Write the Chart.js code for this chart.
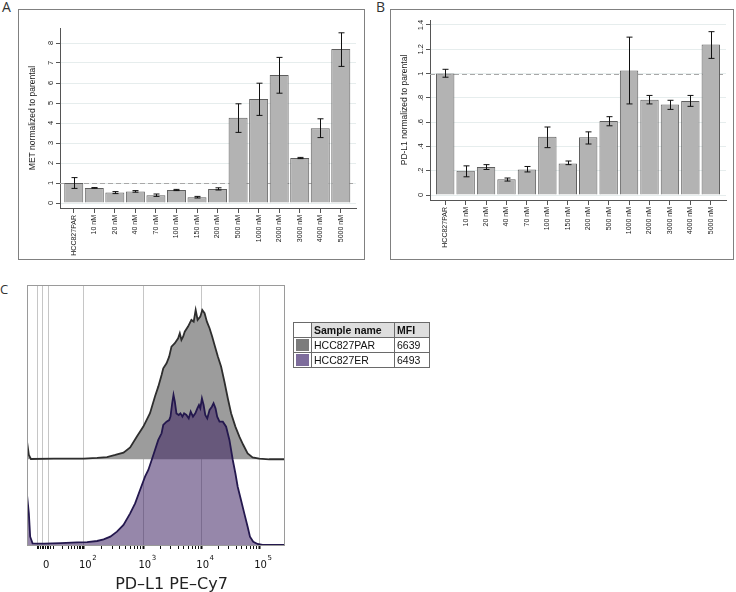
<!DOCTYPE html>
<html>
<head>
<meta charset="utf-8">
<script src="https://cdn.jsdelivr.net/npm/chart.js@4.4.1/dist/chart.umd.min.js"></script>
<style>
  body { margin: 0; width: 736px; height: 592px; position: relative; overflow: hidden; background: #fff; font-family: 'Liberation Sans', Arial, sans-serif; }
  .frame { position: absolute; border: 1px solid #808080; box-sizing: border-box; }
  .tag { position: absolute; font: 14px 'Open Sans', sans-serif; color: #333; line-height: 1; }
  canvas { position: absolute; }
  #mfi { position: absolute; left: 293px; top: 322px; border-collapse: collapse; font: 10.5px 'Liberation Sans', Arial, sans-serif; color: #111; }
  #mfi td, #mfi th { border: 1px solid #6a6a6a; height: 14px; padding: 0 2px; text-align: left; white-space: nowrap; }
  #mfi th { background: #dedede; font-weight: bold; }
  #mfi th.blank { background: #fff; }
  .sw { display: block; width: 13px; height: 12px; }
</style>
</head>
<body>
<div class="frame" style="left:18px;top:9px;width:347px;height:251px"></div>
<div class="frame" style="left:390px;top:9px;width:344px;height:251px"></div>
<div class="tag" style="left:2px;top:0px">A</div>
<div class="tag" style="left:376px;top:0px">B</div>
<div class="tag" style="left:0px;top:283px;font-size:13px">C</div>

<canvas id="chartA" width="344" height="248" style="left:19px;top:10px"></canvas>
<canvas id="chartB" width="341" height="248" style="left:391px;top:10px"></canvas>
<canvas id="chartC" width="300" height="324" style="left:0px;top:270px"></canvas>

<table id="mfi">
  <tr><th class="blank" style="width:13px"></th><th style="width:78px">Sample name</th><th style="width:30px">MFI</th></tr>
  <tr><td><span class="sw" style="background:#7c7c7c"></span></td><td>HCC827PAR</td><td>6639</td></tr>
  <tr><td><span class="sw" style="background:#7d6c9b"></span></td><td>HCC827ER</td><td>6493</td></tr>
</table>

<script>
// categories shared by panels A and B
const doseLabels = ['HCC827PAR', '10 nM', '20 nM', '40 nM', '70 nM', '100 nM', '150 nM', '200 nM',
  '500 nM', '1000 nM', '2000 nM', '3000 nM', '4000 nM', '5000 nM'];

// A: MET normalized to parental (mean, error bar low/high)
const metMean = [1.00, 0.75, 0.52, 0.58, 0.39, 0.65, 0.29, 0.70, 4.26, 5.20, 6.40, 2.25, 3.74, 7.70];
const metLow  = [0.73, 0.74, 0.47, 0.54, 0.33, 0.62, 0.25, 0.65, 3.53, 4.38, 5.49, 2.22, 3.27, 6.83];
const metHigh = [1.27, 0.77, 0.57, 0.62, 0.45, 0.68, 0.33, 0.76, 4.96, 5.99, 7.28, 2.28, 4.21, 8.51];
const metTicks = [0, 1, 2, 3, 4, 5, 6, 7, 8];
const metTickText = ['0', '1', '2', '3', '4', '5', '6', '7', '8'];

// B: PD-L1 normalized to parental
const pdl1Mean = [1.00, 0.20, 0.23, 0.13, 0.21, 0.48, 0.26, 0.475, 0.61, 1.025, 0.785, 0.745, 0.775, 1.24];
const pdl1Low  = [0.97, 0.15, 0.21, 0.115, 0.19, 0.39, 0.25, 0.42, 0.57, 0.75, 0.75, 0.705, 0.73, 1.125];
const pdl1High = [1.035, 0.24, 0.25, 0.14, 0.235, 0.56, 0.28, 0.52, 0.645, 1.30, 0.82, 0.78, 0.82, 1.345];
const pdl1Ticks = [0, 0.2, 0.4, 0.6, 0.8, 1, 1.2, 1.4];
const pdl1TickText = ['0', '.2', '.4', '.6', '.8', '1', '1.2', '1.4'];

const parentalLevel = 1;

// C: flow histograms, x in display decades of PD-L1 PE-Cy7, y in % of mode
const parX = [0.99, 1.022, 1.057, 1.456, 1.971, 2.201, 2.372, 2.515, 2.657, 2.772, 2.886, 3.000, 3.115, 3.201,
  3.258, 3.315, 3.344, 3.401, 3.446, 3.486, 3.544, 3.601, 3.630, 3.658, 3.687, 3.715, 3.772, 3.830, 3.870,
  3.904, 3.938, 3.984, 4.018, 4.058, 4.098, 4.144, 4.190, 4.230, 4.287, 4.344, 4.401, 4.459, 4.516, 4.590,
  4.659, 4.727, 4.802, 4.887, 5.002, 5.173, 5.43];
const parCount = [11.8, 2.9, 0.2, 0.4, 0.4, 0.9, 1.5, 2.9, 4.5, 8.0, 15.2, 22.0, 31.0, 42.2,
  48.9, 56.7, 61.2, 64.6, 69.1, 75.8, 78.1, 81.4, 84.8, 80.3, 82.5, 85.9, 89.3, 93.8, 92.6,
  100.5, 93.8, 96.0, 100.5, 98.3, 92.6, 88.2, 82.5, 76.9, 69.1, 62.3, 52.2, 41.1, 31.0, 22.0,
  15.2, 9.6, 4.0, 1.3, 0.4, 0, 0];
const erX = [0.99, 1.022, 1.045, 1.086, 1.285, 1.571, 1.857, 2.029, 2.201, 2.314, 2.429, 2.544, 2.657, 2.772,
  2.858, 2.943, 3.029, 3.086, 3.144, 3.201, 3.258, 3.315, 3.344, 3.401, 3.446, 3.469, 3.498, 3.521, 3.544,
  3.572, 3.612, 3.641, 3.675, 3.704, 3.744, 3.784, 3.818, 3.858, 3.898, 3.933, 3.961, 3.984, 4.012, 4.041,
  4.070, 4.104, 4.144, 4.184, 4.213, 4.247, 4.276, 4.316, 4.373, 4.430, 4.487, 4.545, 4.590, 4.630, 4.687,
  4.744, 4.802, 4.842, 4.899, 4.973, 5.059, 5.43];
const erCount = [33.7, 21.3, 5.6, 1.1, 0.9, 1.3, 1.8, 2.0, 2.7, 3.8, 5.6, 9.0, 13.5, 21.3,
  28.0, 37.0, 46.0, 50.5, 57.2, 63.9, 70.7, 75.2, 80.8, 83.0, 84.1, 86.4, 95.4, 101.0, 96.5,
  88.6, 87.5, 88.6, 86.4, 88.6, 87.5, 85.2, 89.8, 86.4, 88.6, 92.0, 94.2, 92.0, 98.7, 94.2,
  87.5, 85.2, 90.9, 93.1, 95.4, 92.0, 86.4, 83.0, 83.0, 79.6, 70.7, 57.2, 48.3, 39.2, 30.3,
  21.3, 12.3, 5.6, 2.2, 0.7, 0, 0];

// axis C labels and gridlines
const cLabelPos = [1.322, 1.971, 3, 4, 5];
const cLabelBase = ['0', '10', '10', '10', '10'];
const cLabelExp = ['', '2', '3', '4', '5'];
const cGridPos = [1.171, 1.257, 1.370, 1.971, 3, 4, 5];
const cNearZeroTicks = [1.19, 1.23, 1.27, 1.31, 1.35, 1.39, 1.451];
const cAxisTitle = 'PD\u2013L1 PE\u2013Cy7';

Chart.defaults.font.family = "'Liberation Sans', Arial, sans-serif";
Chart.defaults.color = '#222';

function barPanel(canvasId, cfg) {
  const errorBars = {
    id: 'errorBars',
    afterDatasetsDraw(chart) {
      const { ctx, scales: { x, y } } = chart;
      ctx.save();
      ctx.strokeStyle = '#111';
      ctx.lineWidth = 1;
      cfg.lows.forEach((lo, i) => {
        const px = Math.round(x.getPixelForValue(i)) + 0.5;
        const y1 = y.getPixelForValue(lo);
        const y2 = y.getPixelForValue(cfg.highs[i]);
        ctx.beginPath();
        ctx.moveTo(px, y1); ctx.lineTo(px, y2);
        ctx.moveTo(px - 3, y1); ctx.lineTo(px + 3, y1);
        ctx.moveTo(px - 3, y2); ctx.lineTo(px + 3, y2);
        ctx.stroke();
      });
      ctx.restore();
    }
  };
  const refLine = {
    id: 'refLine',
    beforeDatasetsDraw(chart) {
      const { ctx, chartArea, scales: { y } } = chart;
      const py = Math.round(y.getPixelForValue(parentalLevel)) + 0.5;
      ctx.save();
      ctx.strokeStyle = '#a8a8a8';
      ctx.setLineDash([5, 3]);
      ctx.beginPath();
      ctx.moveTo(chartArea.left, py); ctx.lineTo(chartArea.right, py);
      ctx.stroke();
      ctx.restore();
    }
  };
  const yLabels = {
    id: 'yLabels',
    afterDraw(chart) {
      const { ctx, chartArea, scales: { y } } = chart;
      ctx.save();
      ctx.font = "7.5px 'Liberation Sans', Arial, sans-serif";
      ctx.fillStyle = '#222';
      ctx.textAlign = 'center';
      ctx.textBaseline = 'middle';
      cfg.ticks.forEach((v, i) => {
        ctx.save();
        ctx.translate(chartArea.left - 9.5, y.getPixelForValue(v));
        ctx.rotate(-Math.PI / 2);
        ctx.fillText(cfg.tickText[i], 0, 0);
        ctx.restore();
      });
      ctx.restore();
    }
  };

  return new Chart(document.getElementById(canvasId), {
    type: 'bar',
    data: {
      datasets: [{
        data: cfg.means.map((v, i) => ({ x: i, y: v })),
        backgroundColor: '#b3b3b3',
        borderColor: '#5e5e5e',
        borderWidth: 1,
        categoryPercentage: 1,
        barPercentage: cfg.barPct
      }]
    },
    options: {
      responsive: false,
      animation: false,
      devicePixelRatio: 1,
      layout: { padding: cfg.padding },
      plugins: { legend: { display: false }, tooltip: { enabled: false } },
      scales: {
        x: {
          type: 'linear',
          offset: false,
          min: cfg.xMin,
          max: cfg.xMax,
          afterBuildTicks: (s) => { s.ticks = doseLabels.map((_, i) => ({ value: i })); },
          afterFit: (s) => { s.height = cfg.xHeight; },
          grid: { offset: false, drawOnChartArea: false, tickLength: 5, tickColor: '#555' },
          border: { color: '#555' },
          ticks: {
            autoSkip: false, minRotation: 90, maxRotation: 90, padding: 2,
            font: { size: 7 }, color: '#222',
            callback: (v) => doseLabels[v] ?? ''
          }
        },
        y: {
          min: cfg.yMin,
          max: cfg.yMax,
          afterBuildTicks: (s) => { s.ticks = cfg.ticks.map(v => ({ value: v })); },
          afterFit: (s) => { s.width = cfg.yWidth; },
          grid: { color: '#e6eded', tickLength: 4, tickColor: '#555' },
          border: { color: '#555' },
          ticks: { display: false },
          title: { display: true, text: cfg.title, font: { size: 8.5 }, color: '#222', padding: { top: cfg.titlePad, bottom: 0 } }
        }
      }
    },
    plugins: [refLine, errorBars, yLabels]
  });
}

barPanel('chartA', {
  means: metMean, lows: metLow, highs: metHigh,
  ticks: metTicks, tickText: metTickText,
  title: 'MET normalized to parental',
  yMin: -0.25, yMax: 8.75, xMin: -0.67, xMax: 13.74, barPct: 0.925,
  padding: { top: 18, right: 7, left: 0, bottom: 0 },
  yWidth: 41, xHeight: 50, titlePad: 9
});

barPanel('chartB', {
  means: pdl1Mean, lows: pdl1Low, highs: pdl1High,
  ticks: pdl1Ticks, tickText: pdl1TickText,
  title: 'PD-L1 normalized to parental',
  yMin: -0.041, yMax: 1.441, xMin: -0.745, xMax: 13.745, barPct: 0.9,
  padding: { top: 10, right: 6, left: 0, bottom: 0 },
  yWidth: 39, xHeight: 58, titlePad: 9
});

// panel C
const cMinor = [];
cNearZeroTicks.forEach(v => cMinor.push(v));
for (let k = 2; k <= 9; k++) cMinor.push(1.451 + Math.log10(k) * (1.971 - 1.451));
for (let k = 2; k <= 9; k++) cMinor.push(1.971 + Math.log10(k) * (3 - 1.971));
[3, 4].forEach(d => { for (let k = 2; k <= 9; k++) cMinor.push(d + Math.log10(k)); });
const cIsMajor = (v) => cLabelPos.slice(1).some(p => Math.abs(p - v) < 1e-6);
const cIsGrid = (v) => cGridPos.some(p => Math.abs(p - v) < 1e-6);

const frameC = {
  id: 'frameC',
  afterDraw(chart) {
    const { ctx, chartArea: a, scales: { x } } = chart;
    ctx.save();
    ctx.strokeStyle = '#9a9a9a';
    ctx.lineWidth = 1;
    ctx.strokeRect(Math.round(a.left) + 0.5, Math.round(a.top) + 0.5, Math.round(a.right - a.left), Math.round(a.bottom - a.top));
    ctx.fillStyle = '#111';
    cLabelPos.forEach((p, i) => {
      const px = x.getPixelForValue(p);
      const yBase = a.bottom + 20;
      ctx.font = "10px 'DejaVu Sans', sans-serif";
      ctx.textBaseline = 'middle';
      if (!cLabelExp[i]) {
        ctx.textAlign = 'center';
        ctx.fillText(cLabelBase[i], px, yBase);
        return;
      }
      const w = ctx.measureText(cLabelBase[i]).width;
      ctx.textAlign = 'left';
      const left = px + 1.5 - w / 2;
      ctx.fillText(cLabelBase[i], left, yBase);
      ctx.font = "7px 'DejaVu Sans', sans-serif";
      ctx.fillText(cLabelExp[i], left + w + 0.5, yBase - 7);
    });
    // axis title, sitting a little right of the plot centre as in the source figure
    ctx.font = "16px 'DejaVu Sans', sans-serif";
    ctx.fillStyle = '#222';
    ctx.textAlign = 'center';
    ctx.fillText(cAxisTitle, (a.left + a.right) / 2 + 16, a.bottom + 40);
    ctx.restore();
  }
};

new Chart(document.getElementById('chartC'), {
  type: 'line',
  data: {
    datasets: [
      {
        label: 'HCC827ER',
        data: erX.map((x, i) => ({ x, y: erCount[i] })),
        yAxisID: 'y',
        borderColor: '#24184e',
        backgroundColor: 'rgba(57,28,95,0.53)',
        borderWidth: 1.8,
        pointRadius: 0,
        tension: 0,
        fill: 'origin'
      },
      {
        label: 'HCC827PAR',
        data: parX.map((x, i) => ({ x, y: parCount[i] })),
        yAxisID: 'y2',
        borderColor: '#2e2e2e',
        backgroundColor: '#9c9c9c',
        borderWidth: 1.8,
        pointRadius: 0,
        tension: 0,
        fill: 'origin'
      }
    ]
  },
  options: {
    responsive: false,
    animation: false,
    devicePixelRatio: 1,
    layout: { padding: { top: 15, right: 16, left: 27, bottom: 0 } },
    plugins: { legend: { display: false }, tooltip: { enabled: false } },
    scales: {
      x: {
        type: 'linear',
        min: 0.99,
        max: 5.43,
        afterBuildTicks: (s) => {
          const vals = [...new Set([...cGridPos, ...cMinor, ...cLabelPos.slice(1)])].sort((a, b) => a - b);
          s.ticks = vals.map(v => ({ value: v }));
        },
        afterFit: (s) => { s.height = 49; },
        grid: {
          drawOnChartArea: true,
          tickLength: 4,
          color: (c) => (c.tick && cIsGrid(c.tick.value) ? '#c6c6c6' : 'rgba(0,0,0,0)'),
          tickColor: '#111',
          tickWidth: (c) => (c.tick && cIsMajor(c.tick.value) ? 2 : 1)
        },
        border: { color: '#222', width: 1 },
        ticks: { display: false, autoSkip: false }
      },
      y: { display: false, min: 0, max: 175 },
      y2: { display: false, min: -57.7, max: 117.3 }
    }
  },
  plugins: [frameC]
});
</script>
</body>
</html>
